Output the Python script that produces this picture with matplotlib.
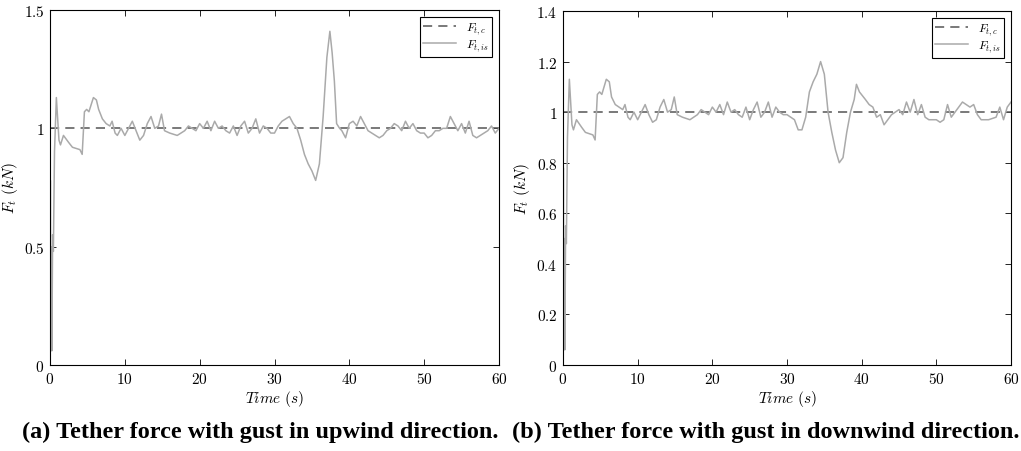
import matplotlib
matplotlib.use('Agg')
import matplotlib.pyplot as plt
import numpy as np

# --- data ---
t_up = [0.0, 0.05, 0.1, 0.2, 0.25, 0.35, 0.45, 0.6, 0.85, 1.0, 1.2, 1.4, 1.8, 2.5, 3.0, 3.5, 4.0, 4.3,
        4.6, 4.9, 5.2, 5.5, 5.8, 6.2, 6.5, 7.0, 7.5, 8.0, 8.3, 8.7, 9.0, 9.5, 10.0, 10.5, 11.0, 11.5,
        12.0, 12.5, 13.0, 13.5, 14.0, 14.5, 14.9, 15.3, 16.0, 17.0, 18.0, 18.5, 19.0, 19.5, 20.0, 20.5,
        21.0, 21.5, 22.0, 22.5, 23.0, 23.5, 24.0, 24.5, 25.0, 25.5, 26.0, 26.5, 27.0, 27.5, 28.0, 28.5,
        29.0, 29.5, 30.0, 30.5, 31.0, 31.5, 32.0, 32.5, 33.0, 33.5, 34.0, 34.5, 35.0, 35.5, 36.0, 36.5,
        37.0, 37.4, 37.7, 38.0, 38.3, 38.7, 39.0, 39.5, 40.0, 40.5, 41.0, 41.5, 42.0, 42.5, 43.0, 43.5,
        44.0, 44.5, 45.0, 45.5, 46.0, 46.5, 47.0, 47.5, 48.0, 48.5, 49.0, 49.5, 50.0, 50.5, 51.0, 51.5,
        52.0, 52.5, 53.0, 53.5, 54.0, 54.5, 55.0, 55.5, 56.0, 56.5, 57.0, 57.5, 58.0, 58.5, 59.0, 59.5, 60.0]
f_up = [0.0, 0.78, 0.06, 0.5, 0.06, 0.55, 0.48, 0.9, 1.13, 1.05, 0.95, 0.93, 0.97, 0.94, 0.92, 0.915, 0.91, 0.89,
        1.07, 1.08, 1.07, 1.10, 1.13, 1.12, 1.08, 1.04, 1.02, 1.01, 1.03, 0.98, 0.97, 1.0, 0.97, 1.0, 1.03, 0.99,
        0.95, 0.97, 1.02, 1.05, 1.0, 1.01, 1.06, 0.99, 0.98, 0.97, 0.99, 1.01, 1.0, 0.99, 1.02, 1.0,
        1.03, 0.99, 1.03, 1.0, 1.01, 0.99, 0.98, 1.01, 0.97, 1.01, 1.03, 0.98, 1.0, 1.04, 0.98, 1.01,
        1.0, 0.98, 0.98, 1.01, 1.03, 1.04, 1.05, 1.02, 1.0, 0.95, 0.89, 0.85, 0.82, 0.78, 0.85, 1.05,
        1.3, 1.41, 1.32, 1.2, 1.02, 1.0, 0.99, 0.96, 1.02, 1.03, 1.01, 1.05, 1.02, 0.99, 0.98, 0.97,
        0.96, 0.97, 0.99, 1.0, 1.02, 1.01, 0.99, 1.03, 1.0, 1.02, 0.99, 0.98, 0.98, 0.96, 0.97, 0.99,
        0.99, 1.0, 1.0, 1.05, 1.02, 0.99, 1.02, 0.98, 1.03, 0.97, 0.96, 0.97, 0.98, 0.99, 1.01, 0.98, 1.0]

t_down = [0.0, 0.05, 0.1, 0.2, 0.25, 0.35, 0.45, 0.6, 0.85, 1.0, 1.2, 1.4, 1.8, 2.5, 3.0, 3.5, 4.0, 4.3,
          4.6, 4.9, 5.2, 5.5, 5.8, 6.2, 6.5, 7.0, 7.5, 8.0, 8.3, 8.7, 9.0, 9.5, 10.0, 10.5, 11.0, 11.5,
          12.0, 12.5, 13.0, 13.5, 14.0, 14.5, 14.9, 15.3, 16.0, 17.0, 18.0, 18.5, 19.0, 19.5, 20.0, 20.5,
          21.0, 21.5, 22.0, 22.5, 23.0, 23.5, 24.0, 24.5, 25.0, 25.5, 26.0, 26.5, 27.0, 27.5, 28.0, 28.5,
          29.0, 29.5, 30.0, 30.5, 31.0, 31.5, 32.0, 32.5, 33.0, 33.5, 34.0, 34.5, 35.0, 35.5, 36.0, 36.5,
          37.0, 37.5, 38.0, 38.5, 39.0, 39.3, 39.7, 40.5, 41.0, 41.5, 42.0, 42.5, 43.0, 43.5, 44.0, 44.5,
          45.0, 45.5, 46.0, 46.5, 47.0, 47.5, 48.0, 48.5, 49.0, 49.5, 50.0, 50.5, 51.0, 51.5, 52.0, 52.5,
          53.0, 53.5, 54.0, 54.5, 55.0, 55.5, 56.0, 56.5, 57.0, 58.0, 58.5, 59.0, 59.5, 60.0]
f_down = [0.0, 0.78, 0.06, 0.5, 0.06, 0.55, 0.48, 0.9, 1.13, 1.05, 0.95, 0.93, 0.97, 0.94, 0.92, 0.915, 0.91, 0.89,
          1.07, 1.08, 1.07, 1.10, 1.13, 1.12, 1.06, 1.03, 1.02, 1.01, 1.03, 0.98, 0.97, 1.0, 0.97, 1.0, 1.03, 0.99,
          0.96, 0.97, 1.02, 1.05, 1.0, 1.01, 1.06, 0.99, 0.98, 0.97, 0.99, 1.01, 1.0, 0.99, 1.02, 1.0,
          1.03, 0.99, 1.04, 1.0, 1.01, 0.99, 0.98, 1.02, 0.97, 1.01, 1.04, 0.98, 1.0, 1.04, 0.98, 1.02,
          1.0, 0.99, 0.99, 0.98, 0.97, 0.93, 0.93, 0.98, 1.08, 1.12, 1.15, 1.2, 1.15, 1.0, 0.92, 0.85,
          0.80, 0.82, 0.92, 1.0, 1.05, 1.11, 1.08, 1.05, 1.03, 1.02, 0.98, 0.99, 0.95, 0.97, 0.99, 1.0,
          1.01, 0.99, 1.04, 1.0, 1.05, 0.99, 1.03, 0.98, 0.97, 0.97, 0.97, 0.96, 0.97, 1.03, 0.98, 1.0,
          1.02, 1.04, 1.03, 1.02, 1.03, 0.99, 0.97, 0.97, 0.97, 0.98, 1.02, 0.97, 1.02, 1.04]

f_ref = 1.0

plt.rcParams['mathtext.fontset'] = 'cm'
plt.rcParams['font.family'] = 'serif'
plt.rcParams['font.serif'] = ['cmr10', 'DejaVu Serif']
plt.rcParams['axes.formatter.use_mathtext'] = True

fig = plt.figure(figsize=(10.21, 4.52), dpi=100)
ax1 = fig.add_axes([50 / 1021, 1 - 366 / 452, 449 / 1021, 355 / 452])
ax2 = fig.add_axes([563 / 1021, 1 - 366 / 452, 448 / 1021, 354 / 452])

panels = [
    (ax1, t_up, f_up, 1.5, [0, 0.5, 1, 1.5], ['0', '0.5', '1', '1.5']),
    (ax2, t_down, f_down, 1.4, [0, 0.2, 0.4, 0.6, 0.8, 1, 1.2, 1.4],
     ['0', '0.2', '0.4', '0.6', '0.8', '1', '1.2', '1.4']),
]

for ax, t, f, ytop, yt, ytl in panels:
    ax.plot([0, 60], [f_ref, f_ref], ls=(0, (6, 4)), color='#555555', lw=1.1, label=r'$F_{t,c}$')
    ax.plot(t, f, color='#aaaaaa', lw=1.1, label=r'$F_{t,is}$')
    ax.set_xlim(0, 60)
    ax.set_ylim(0, ytop)
    ax.set_xticks([0, 10, 20, 30, 40, 50, 60])
    ax.set_xticklabels([r'$%d$' % v for v in [0, 10, 20, 30, 40, 50, 60]], fontsize=11)
    ax.set_yticks(yt)
    ax.set_yticklabels(['$' + s + '$' for s in ytl], fontsize=11)
    ax.tick_params(direction='in', top=True, right=True, length=4, width=0.6, pad=4)
    for sp in ax.spines.values():
        sp.set_linewidth(0.8)
    ax.set_xlabel(r'$Time\ (s)$', fontsize=11, labelpad=2)
    ax.set_ylabel(r'$F_t\ (kN)$', fontsize=11, labelpad=3)
    leg = ax.legend(loc='upper right', fontsize=8.5, fancybox=False, framealpha=1,
                    edgecolor='black', handlelength=2.8, borderpad=0.3, labelspacing=0.15,
                    borderaxespad=0.6)
    leg.get_frame().set_linewidth(0.8)

fig.text(0.5 * (21 + 500) / 1021, 1 - 432 / 452, '(a) Tether force with gust in upwind direction.',
         ha='center', va='center', fontsize=17.5, fontweight='bold', family='Liberation Serif')
fig.text(0.5 * (513 + 1018) / 1021, 1 - 432 / 452, '(b) Tether force with gust in downwind direction.',
         ha='center', va='center', fontsize=17.5, fontweight='bold', family='Liberation Serif')

fig.savefig('out.png', dpi=100)
